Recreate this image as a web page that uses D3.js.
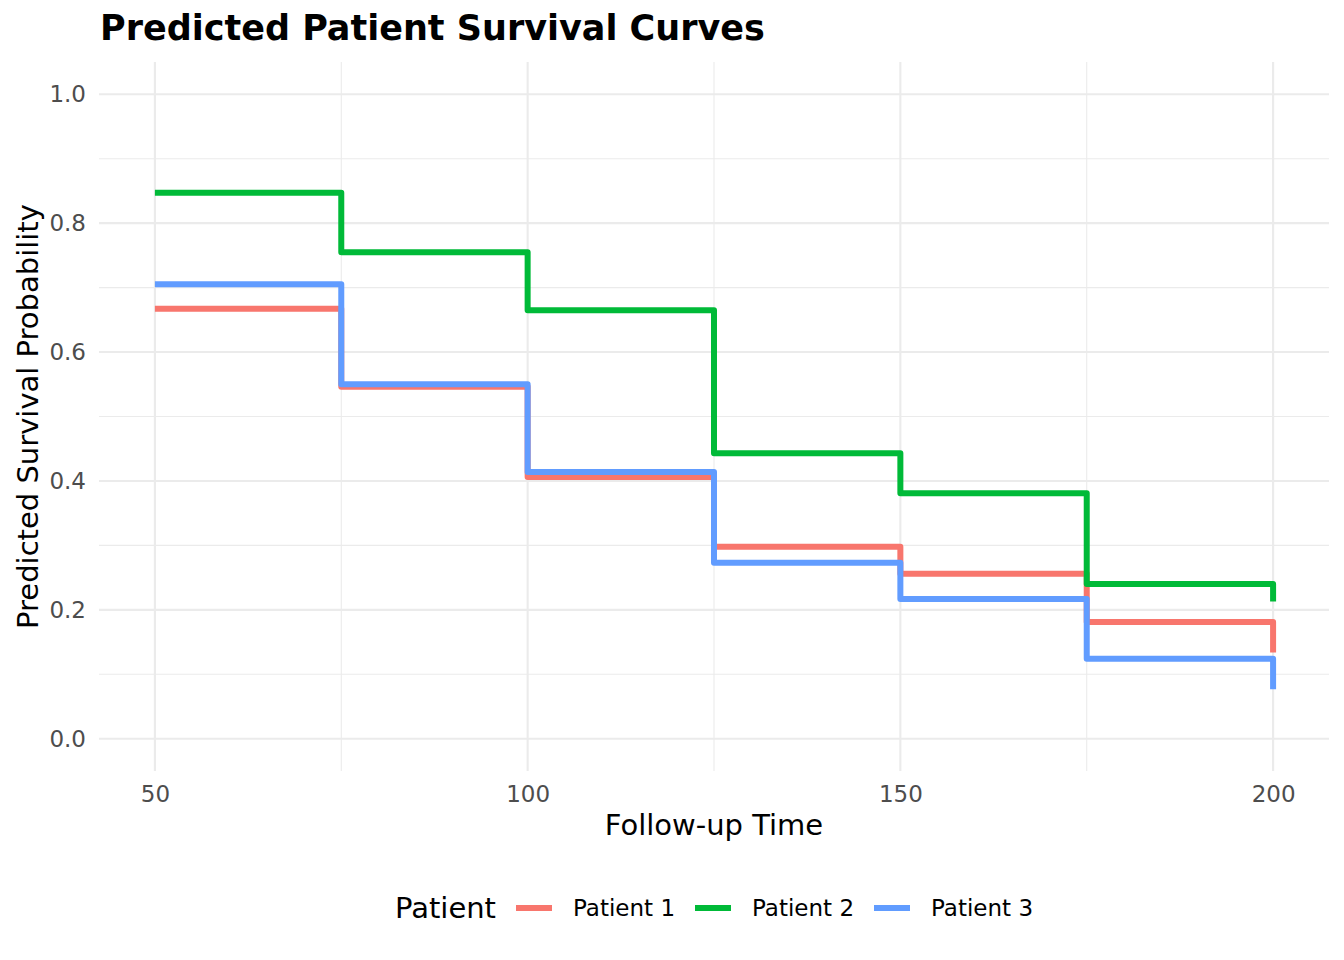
<!DOCTYPE html>
<html>
<head>
<meta charset="utf-8">
<script src="https://cdn.jsdelivr.net/npm/d3@7"></script>
<style>
  html, body { margin: 0; padding: 0; background: #fff; }
  svg { display: block; font-family: "DejaVu Sans", sans-serif; }
</style>
</head>
<body>
<svg id="chart" width="1344" height="960"></svg>
<script>
// ---- data ----
const times = [50, 75, 100, 125, 150, 175, 200];
const patients = ["Patient 1", "Patient 2", "Patient 3"];
const patient1 = [0.667, 0.546, 0.406, 0.298, 0.256, 0.181, 0.134];
const patient2 = [0.847, 0.755, 0.665, 0.443, 0.381, 0.240, 0.213];
const patient3 = [0.705, 0.550, 0.414, 0.273, 0.217, 0.124, 0.077];
const colors = ["#F8766D", "#00BA38", "#619CFF"];
const xTicks = [50, 100, 150, 200];
const xMinor = [75, 125, 175];
const yTicks = [0, 0.2, 0.4, 0.6, 0.8, 1.0];
const yMinor = [0.1, 0.3, 0.5, 0.7, 0.9];

const seriesValues = [patient1, patient2, patient3];
const series = patients.map((name, i) => ({
  name, color: colors[i],
  points: times.map((t, j) => ({ t, v: seriesValues[i][j] }))
}));

const svg = d3.select("#chart");
const panel = { left: 99, right: 1329, top: 62, bottom: 771 };

const x = d3.scaleLinear().domain([42.5, 207.5]).range([panel.left, panel.right]);
const y = d3.scaleLinear().domain([-0.05, 1.05]).range([panel.bottom, panel.top]);

const grid = svg.append("g");
// minor grid
grid.selectAll(".ym").data(yMinor).join("line")
  .attr("x1", panel.left).attr("x2", panel.right)
  .attr("y1", d => y(d)).attr("y2", d => y(d))
  .attr("stroke", "#EBEBEB").attr("stroke-width", 1.1);
grid.selectAll(".xm").data(xMinor).join("line")
  .attr("y1", panel.top).attr("y2", panel.bottom)
  .attr("x1", d => x(d)).attr("x2", d => x(d))
  .attr("stroke", "#EBEBEB").attr("stroke-width", 1.1);
// major grid
grid.selectAll(".yM").data(yTicks).join("line")
  .attr("x1", panel.left).attr("x2", panel.right)
  .attr("y1", d => y(d)).attr("y2", d => y(d))
  .attr("stroke", "#EBEBEB").attr("stroke-width", 2.1);
grid.selectAll(".xM").data(xTicks).join("line")
  .attr("y1", panel.top).attr("y2", panel.bottom)
  .attr("x1", d => x(d)).attr("x2", d => x(d))
  .attr("stroke", "#EBEBEB").attr("stroke-width", 2.1);

// axes (labels only)
const xAxis = d3.axisBottom(x).tickValues(xTicks).tickSize(0).tickPadding(0).tickFormat(d3.format("d"));
const gx = svg.append("g").attr("transform", `translate(0,${panel.bottom + 31})`).call(xAxis);
gx.select(".domain").remove();
gx.selectAll("text").attr("font-family", "DejaVu Sans").attr("font-size", 23)
  .attr("fill", "#4D4D4D").attr("dy", 0);

const yAxis = d3.axisLeft(y).tickValues(yTicks).tickSize(0).tickPadding(0).tickFormat(d3.format(".1f"));
const gy = svg.append("g").attr("transform", `translate(${panel.left - 13},0)`).call(yAxis);
gy.select(".domain").remove();
gy.selectAll("text").attr("font-family", "DejaVu Sans").attr("font-size", 23)
  .attr("fill", "#4D4D4D");

// lines
const line = d3.line().x(d => x(d.t)).y(d => y(d.v)).curve(d3.curveStepAfter);
svg.append("g").selectAll("path").data(series).join("path")
  .attr("d", d => line(d.points))
  .attr("fill", "none")
  .attr("stroke", d => d.color)
  .attr("stroke-width", 6)
  .attr("stroke-linejoin", "round")
  .attr("stroke-linecap", "butt");

// titles
svg.append("text").attr("x", 100).attr("y", 40)
  .attr("font-size", 35).attr("font-weight", "bold").attr("fill", "#000")
  .text("Predicted Patient Survival Curves");
svg.append("text").attr("x", (panel.left + panel.right) / 2).attr("y", 835)
  .attr("text-anchor", "middle").attr("font-size", 29).attr("fill", "#000")
  .text("Follow-up Time");
svg.append("text").attr("transform", `translate(38,${(panel.top + panel.bottom) / 2}) rotate(-90)`)
  .attr("text-anchor", "middle").attr("font-size", 29).attr("fill", "#000")
  .text("Predicted Survival Probability");

// legend
const leg = svg.append("g");
const legY = 908;
leg.append("text").attr("x", 395).attr("y", 917.5)
  .attr("font-size", 29).attr("fill", "#000").text("Patient");
const keyX = [516, 695, 874];
series.forEach((s, i) => {
  leg.append("line").attr("x1", keyX[i]).attr("x2", keyX[i] + 36)
    .attr("y1", legY).attr("y2", legY)
    .attr("stroke", s.color).attr("stroke-width", 5.8);
  leg.append("text").attr("x", keyX[i] + 57).attr("y", 916)
    .attr("font-size", 23).attr("fill", "#000").text(s.name);
});
</script>
</body>
</html>
